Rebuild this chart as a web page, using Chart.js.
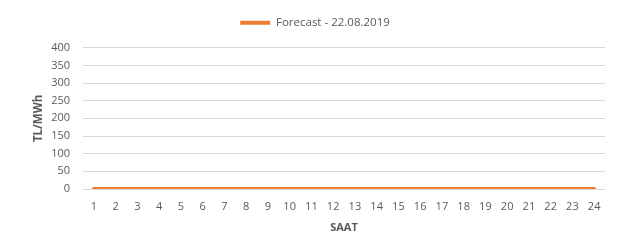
<!DOCTYPE html>
<html>
<head>
<meta charset="utf-8">
<script src="https://cdn.jsdelivr.net/npm/chart.js@4"></script>
<style>
html,body{margin:0;padding:0;background:#fff;}
#wrap{width:643px;height:246px;}
</style>
</head>
<body>
<div id="wrap"><canvas id="c" width="643" height="246"></canvas></div>
<script>
const hours = ['1','2','3','4','5','6','7','8','9','10','11','12','13','14','15','16','17','18','19','20','21','22','23','24'];
const forecast = [0,0,0,0,0,0,0,0,0,0,0,0,0,0,0,0,0,0,0,0,0,0,0,0];
const seriesLabel = 'Forecast - 22.08.2019';
const yTitle = 'TL/MWh';
const xTitle = 'SAAT';

const txt = '#595959';
const fam = '"Open Sans", sans-serif';

new Chart(document.getElementById('c'), {
  type: 'line',
  data: {
    labels: hours,
    datasets: [{
      label: seriesLabel,
      data: forecast,
      borderColor: '#ED7D31',
      backgroundColor: '#ED7D31',
      borderWidth: 4,
      pointRadius: 0,
      pointStyle: 'line',
      borderCapStyle: 'round',
      tension: 0
    }]
  },
  options: {
    responsive: false,
    animation: false,
    layout: { padding: { left: 25, right: 38, top: 6, bottom: 10 } },
    plugins: {
      legend: {
        position: 'top',
        labels: {
          usePointStyle: true,
          pointStyleWidth: 30,
          color: txt,
          font: { family: fam, size: 11.5 },
          padding: 11
        }
      },
      subtitle: {
        display: true, text: '', weight: 500,
        font: { size: 1 }, padding: { top: 0, bottom: 8 }
      },
      tooltip: { enabled: false }
    },
    scales: {
      x: {
        offset: true,
        grid: { display: false, drawTicks: false },
        border: { display: false },
        ticks: { color: txt, font: { family: fam, size: 11 }, padding: 11, maxRotation: 0, autoSkip: false },
        title: { display: true, text: xTitle, color: txt, font: { family: fam, size: 11, weight: 'bold' }, padding: { top: 4, bottom: 2 } },
        afterFit: s => { s.height = 47; }
      },
      y: {
        min: 0, max: 400,
        ticks: { stepSize: 50, color: txt, font: { family: fam, size: 11 }, padding: 13 },
        grid: { color: '#d9d9d9', drawTicks: false, lineWidth: 1 },
        border: { display: false },
        title: { display: true, text: yTitle, color: txt, font: { family: fam, size: 11.5, weight: 'bold' }, padding: { top: 7, bottom: 0 } },
        afterFit: s => { s.width = 58; }
      }
    }
  }
});
</script>
</body>
</html>
